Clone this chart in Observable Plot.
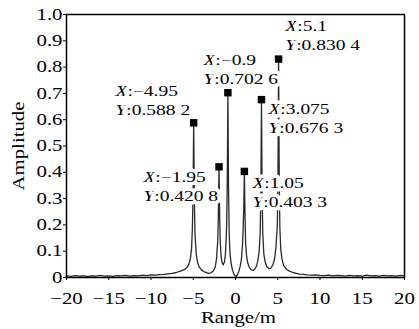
<!DOCTYPE html>
<html><head><meta charset="utf-8">
<script src="https://cdn.jsdelivr.net/npm/d3@7"></script>
<script src="https://cdn.jsdelivr.net/npm/@observablehq/plot@0.6"></script>
<style>body{margin:0;background:#fff} svg{font-family:"Liberation Serif",serif}</style>
</head><body><div id="chart"></div>
<script>
// Spectrum curve
const rangeM = [-20,-19.5,-19,-18.5,-18,-17.5,-17,-16.5,-16,-15.5,-15,-14.5,-14,-13.5,-13,-12.5,-12,-11.5,-11,-10.5,-10,-9.5,-9,-8.5,-8,-7.5,-7,-6.5,-6,-5.7,-5.5,-5.35,-5.2,-5.1,-5.025,-4.95,-4.875,-4.8,-4.65,-4.5,-4.3,-4.0,-3.6,-3.2,-2.9,-2.6,-2.4,-2.25,-2.1,-2.025,-1.95,-1.875,-1.8,-1.7,-1.6,-1.45,-1.3,-1.2,-1.125,-1.05,-0.975,-0.9,-0.825,-0.75,-0.65,-0.5,-0.35,-0.2,-0.05,0.1,0.25,0.4,0.55,0.7,0.825,0.9,0.975,1.05,1.125,1.2,1.3,1.45,1.65,1.9,2.1,2.3,2.5,2.65,2.8,2.925,3.0,3.075,3.15,3.225,3.35,3.5,3.7,3.95,4.2,4.45,4.65,4.8,4.95,5.025,5.1,5.175,5.25,5.35,5.5,5.7,6.0,6.4,6.8,7.2,7.6,8,8.5,9,9.5,10,10.5,11,11.5,12,12.5,13,13.5,14,14.5,15,15.5,16,16.5,17,17.5,18,18.5,19,19.5,20];
const amplitude = [0.006,0.004,0.007,0.005,0.006,0.004,0.006,0.005,0.008,0.005,0.006,0.004,0.007,0.006,0.008,0.005,0.007,0.006,0.009,0.007,0.010,0.009,0.011,0.012,0.014,0.016,0.019,0.024,0.031,0.040,0.052,0.07,0.11,0.19,0.32,0.5882,0.31,0.17,0.09,0.058,0.040,0.028,0.020,0.016,0.018,0.026,0.040,0.07,0.14,0.24,0.4208,0.23,0.13,0.08,0.058,0.048,0.06,0.085,0.13,0.2,0.36,0.7026,0.34,0.17,0.09,0.05,0.028,0.014,0.006,0.004,0.012,0.024,0.042,0.07,0.12,0.18,0.26,0.4033,0.24,0.13,0.085,0.055,0.038,0.029,0.027,0.032,0.045,0.065,0.1,0.17,0.33,0.6763,0.33,0.17,0.09,0.06,0.042,0.034,0.036,0.05,0.075,0.12,0.2,0.38,0.8304,0.38,0.19,0.11,0.07,0.046,0.032,0.024,0.019,0.016,0.013,0.012,0.010,0.009,0.010,0.008,0.007,0.009,0.006,0.008,0.007,0.005,0.008,0.006,0.007,0.005,0.009,0.006,0.007,0.005,0.008,0.006,0.007,0.005,0.008,0.006];

// Data tips
const peakX = [-4.95,-1.95,-0.9,1.05,3.075,5.1];
const peakY = [0.5882,0.4208,0.7026,0.4033,0.6763,0.8304];
const tipLabelX = [-14.2,-10.9,-3.8,2.0,3.9,5.9];
const tipLabelY = [0.707,0.380,0.825,0.357,0.639,0.954];

const xTicks = [-20,-15,-10,-5,0,5,10,15,20];
const yTicks = [0,0.1,0.2,0.3,0.4,0.5,0.6,0.7,0.8,0.9,1.0];

const curve = rangeM.map((x,i)=>({x, y: amplitude[i]}));
const fmtX = v => (v<0?"\u2212":"") + Math.abs(v);
const fmtY = v => { const s=v.toFixed(4); return s.slice(0,5)+" "+s.slice(5); };
const tips = peakX.map((x,i)=>({x, y:peakY[i], lx:tipLabelX[i], ly:tipLabelY[i], l1:"X:"+fmtX(x), l2:"Y:"+fmtY(peakY[i])}));

const tipStyle = {x:"lx", y:"ly", textAnchor:"start", fontSize:15, fill:"black", stroke:"white", strokeWidth:7, paintOrder:"stroke", className:"tip"};

const plot = Plot.plot({
  width:419, height:329, marginLeft:66, marginRight:15, marginTop:14, marginBottom:52,
  style:{fontFamily:"Liberation Serif", fontSize:"16px", background:"#fff", color:"#000"},
  x:{domain:[-20,20]}, y:{domain:[0,1]},
  marks:[
    Plot.line(curve,{x:"x", y:"y", stroke:"#2a2a2a", strokeWidth:1.3}),
    Plot.text(tips,{...tipStyle, text:"l1"}),
    Plot.text(tips,{...tipStyle, text:"l2", dy:19}),
    Plot.dot(tips,{x:"x", y:"y", symbol:"square", r:4.2, fill:"black"}),
    Plot.axisX({ticks:xTicks, tickSize:3, tickPadding:12, label:null, fontSize:16}),
    Plot.axisY({ticks:yTicks, tickSize:3, tickPadding:1, label:null, fontSize:16, tickFormat:d=>d===0?"0":d.toFixed(1)}),
    Plot.frame({stroke:"black", strokeWidth:1.5}),
    Plot.text(["Amplitude"],{text:d=>d, frameAnchor:"left", rotate:-90, dx:-48, textAnchor:"middle", lineAnchor:"middle", fontSize:16, fill:"black"}),
    Plot.text(["Range/m"],{text:d=>d, frameAnchor:"bottom", dy:40, dx:3, textAnchor:"middle", lineAnchor:"middle", fontSize:16, fill:"black"})
  ]
});

// italic X / Y in data tips
plot.querySelectorAll("g.tip text").forEach(t => {
  const s = t.textContent; t.textContent = "";
  const a = document.createElementNS("http://www.w3.org/2000/svg","tspan");
  a.setAttribute("font-style","italic"); a.textContent = s[0];
  const b = document.createElementNS("http://www.w3.org/2000/svg","tspan");
  b.textContent = s.slice(1);
  t.appendChild(a); t.appendChild(b);
});
// the reference typeface is set wide: stretch each text along its own direction
const k = 1.3;
plot.querySelectorAll("text").forEach(t => {
  let x = parseFloat(t.getAttribute("x")); if (!isFinite(x)) x = 0;
  const tr = t.getAttribute("transform")||"";
  t.setAttribute("transform", `${tr} translate(${x},0) scale(${k},1) translate(${-x},0)`);
});
document.getElementById("chart").appendChild(plot);
</script></body></html>
